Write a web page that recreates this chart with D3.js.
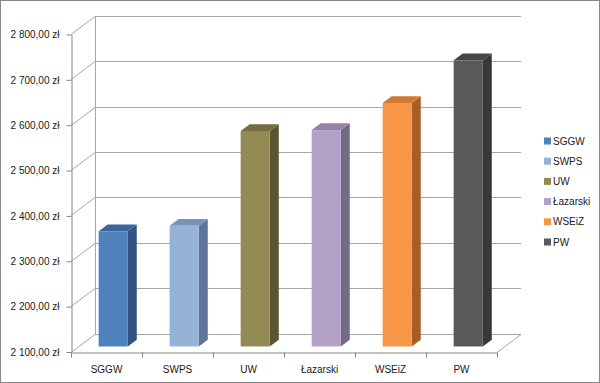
<!DOCTYPE html>
<html>
<head>
<meta charset="utf-8">
<script src="https://cdn.jsdelivr.net/npm/d3@7"></script>
<style>
  body { margin: 0; background: #fff; }
  text { font-family: "Liberation Sans", Arial, sans-serif; fill: #1a1a1a; }
</style>
</head>
<body>
<div id="chart"></div>
<script>
// Values
const categories = ["SGGW", "SWPS", "UW", "Łazarski", "WSEiZ", "PW"];
const values = [2354, 2366, 2575, 2577, 2637, 2731];
const yTicks = [2100, 2200, 2300, 2400, 2500, 2600, 2700, 2800];

const frontColors = ["#4f81bd", "#95b3d7", "#948a54", "#b3a2c7", "#f79646", "#595959"];
const sideColors  = ["#30547f", "#5f7597", "#5c5533", "#756a84", "#a65e25", "#383838"];
const topColors   = ["#3d6699", "#7893b6", "#766d41", "#9484a7", "#cf7a33", "#464646"];

const w = 600, h = 383;
const left = 71, right = 497;
const depthX = 24, depthY = -18;   // 3D depth offset of back wall
const barFront = 0.28, barDepth = 0.375;

const svg = d3.select("#chart").append("svg")
    .attr("width", w)
    .attr("height", h);

// outer border
svg.append("rect")
    .attr("x", 0.5).attr("y", 0.5)
    .attr("width", w - 1).attr("height", h - 1)
    .attr("fill", "#fff")
    .attr("stroke", "#888");

const yScale = d3.scaleLinear()
    .domain([2100, 2800])
    .range([351.5, 34]);

const xScale = d3.scaleBand()
    .domain(categories)
    .range([left, right])
    .paddingInner(0).paddingOuter(0);

const pl = d3.formatLocale({decimal: ",", thousands: " ", grouping: [3], currency: ["", " zł"]});
const fmt = pl.format("$,.2f");

// back wall grid lines + left wall diagonals
const grid = svg.append("g").attr("stroke", "#a6a6a6").attr("fill", "none");
yTicks.forEach(v => {
    const y = Math.round(yScale(v)) + 0.5;
    grid.append("line")
        .attr("x1", left + depthX).attr("x2", right + depthX)
        .attr("y1", y + depthY).attr("y2", y + depthY);
    grid.append("line")
        .attr("x1", left).attr("x2", left + depthX)
        .attr("y1", y).attr("y2", y + depthY);
});
// back wall vertical edge
grid.append("line")
    .attr("x1", left + depthX + 0.5).attr("x2", left + depthX + 0.5)
    .attr("y1", Math.round(yScale(2800)) + 0.5 + depthY)
    .attr("y2", Math.round(yScale(2100)) + 0.5 + depthY);
// floor right edge
grid.append("line")
    .attr("x1", right).attr("x2", right + depthX)
    .attr("y1", Math.round(yScale(2100)) + 0.5)
    .attr("y2", Math.round(yScale(2100)) + 0.5 + depthY);

// bars
const bars = svg.append("g");
categories.forEach((c, i) => {
    const bw = xScale.bandwidth() * 0.41;
    const cx = xScale(c) + xScale.bandwidth() / 2 + barFront * depthX;
    const x0 = cx - bw / 2, x1 = cx + bw / 2;
    const yb = yScale(2100) + barFront * depthY;
    const yt = yScale(values[i]) + barFront * depthY;
    const dx = barDepth * depthX, dy = barDepth * depthY;
    bars.append("path")
        .attr("d", `M${x1},${yt}L${x1 + dx},${yt + dy}L${x1 + dx},${yb + dy}L${x1},${yb}Z`)
        .attr("fill", sideColors[i]);
    bars.append("path")
        .attr("d", `M${x0},${yt}L${x0 + dx},${yt + dy}L${x1 + dx},${yt + dy}L${x1},${yt}Z`)
        .attr("fill", topColors[i]);
    bars.append("rect")
        .attr("x", x0).attr("y", yt)
        .attr("width", bw).attr("height", yb - yt)
        .attr("fill", frontColors[i]);
});

// y axis
const yAxis = d3.axisLeft(yScale)
    .tickValues(yTicks)
    .tickFormat(fmt)
    .tickSize(5)
    .tickSizeOuter(0)
    .tickPadding(7);

const yg = svg.append("g")
    .attr("transform", `translate(${left + 0.5},0.5)`)
    .call(yAxis);
yg.selectAll("path, line").attr("stroke", "#868686");
yg.selectAll("text").attr("font-size", 10).attr("fill", "#1a1a1a");

// x axis: labels at band centres, ticks at band edges
const xAxis = d3.axisBottom(xScale).tickSize(0).tickPadding(13);
const xg = svg.append("g")
    .attr("transform", `translate(0,${Math.round(yScale(2100)) + 0.5})`)
    .call(xAxis);
xg.select(".domain").attr("stroke", "#868686");
xg.selectAll("text").attr("font-size", 10).attr("fill", "#1a1a1a");
const edges = categories.map(c => xScale(c)).concat([right]);
xg.selectAll(".edge")
    .data(edges)
    .enter().append("line")
    .attr("class", "edge")
    .attr("x1", d => Math.round(d) + 0.5).attr("x2", d => Math.round(d) + 0.5)
    .attr("y1", 0).attr("y2", 5)
    .attr("stroke", "#868686");

// legend
const legend = svg.append("g").attr("transform", "translate(544,141)");
categories.forEach((c, i) => {
    const g = legend.append("g").attr("transform", `translate(0,${i * 20.2})`);
    g.append("rect")
        .attr("x", 0).attr("y", -3.5)
        .attr("width", 7).attr("height", 7)
        .attr("fill", frontColors[i]);
    g.append("text")
        .attr("x", 9).attr("y", 0)
        .attr("dy", "0.35em")
        .attr("font-size", 10)
        .text(c);
});
</script>
</body>
</html>
